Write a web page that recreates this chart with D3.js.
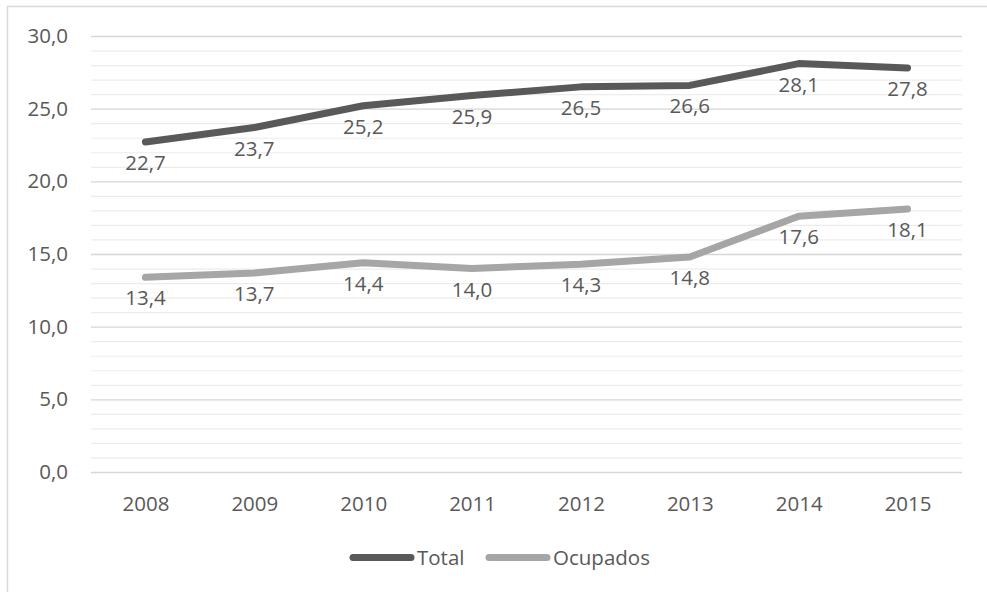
<!DOCTYPE html>
<html>
<head>
<meta charset="utf-8">
<script src="https://cdn.jsdelivr.net/npm/d3@7"></script>
<style>
  body { margin: 0; background: #fff; }
  text { font-family: "Open Sans", sans-serif; fill: #595959; }
</style>
</head>
<body>
<div id="chart"></div>
<script>
var years = ["2008", "2009", "2010", "2011", "2012", "2013", "2014", "2015"];
var total = [22.7, 23.7, 25.2, 25.9, 26.5, 26.6, 28.1, 27.8];
var ocupados = [13.4, 13.7, 14.4, 14.0, 14.3, 14.8, 17.6, 18.1];
var seriesNames = ["Total", "Ocupados"];
var yTicks = [0, 5, 10, 15, 20, 25, 30];

var svgWidth = 987;
var svgHeight = 592;

var margin = { top: 36, right: 25, left: 91, bottom: 120 };
var width = svgWidth - margin.left - margin.right;
var height = svgHeight - margin.top - margin.bottom;

var fontSize = "20.5px";
var fmt = d => d.toFixed(1).replace(".", ",");

var svg = d3.select("#chart")
  .append("svg")
  .attr("width", svgWidth)
  .attr("height", svgHeight);

// chart border
svg.append("rect")
  .attr("x", 7.5)
  .attr("y", 6.5)
  .attr("width", 1000)
  .attr("height", 600)
  .attr("fill", "none")
  .attr("stroke", "#d9d9d9")
  .attr("stroke-width", 1.5);

var chartGroup = svg.append("g")
  .attr("transform", `translate(${margin.left}, ${margin.top})`);

var x = d3.scalePoint()
  .domain(years)
  .range([0, width])
  .padding(0.5);

var y = d3.scaleLinear()
  .domain([0, 30])
  .range([height, 0]);

// minor gridlines every 1
chartGroup.append("g")
  .selectAll("line")
  .data(d3.range(0, 31).filter(v => v % 5 != 0))
  .enter()
  .append("line")
  .attr("x1", 0)
  .attr("x2", width)
  .attr("y1", d => y(d) + 0.5)
  .attr("y2", d => y(d) + 0.5)
  .attr("stroke", "#ececec")
  .attr("stroke-width", 1.2);

// major gridlines + labels
var yAxis = chartGroup.append("g")
  .call(d3.axisLeft(y).tickValues(yTicks).tickSize(-width).tickFormat(fmt).tickPadding(23));
yAxis.select(".domain").remove();
yAxis.selectAll("line").attr("stroke", "#d6d6d6").attr("stroke-width", 1.3);
yAxis.selectAll("text")
  .attr("font-size", fontSize)
  .attr("fill", "#595959")
  .style("font-family", "Open Sans");

var xAxis = chartGroup.append("g")
  .attr("transform", `translate(0, ${height})`)
  .call(d3.axisBottom(x).tickSize(0).tickPadding(24));
xAxis.select(".domain").remove();
xAxis.selectAll("text")
  .attr("font-size", fontSize)
  .attr("fill", "#595959")
  .style("font-family", "Open Sans");

var colors = ["#595959", "#a6a6a6"];
var allSeries = [total, ocupados];

var line = d3.line()
  .x((d, i) => x(years[i]))
  .y(d => y(d));

allSeries.forEach((vals, s) => {
  chartGroup.append("path")
    .datum(vals)
    .attr("d", line)
    .attr("fill", "none")
    .attr("stroke", colors[s])
    .attr("stroke-width", 7)
    .attr("stroke-linecap", "round")
    .attr("stroke-linejoin", "round");

  chartGroup.selectAll(".lbl" + s)
    .data(vals)
    .enter()
    .append("text")
    .attr("class", "lbl" + s)
    .attr("x", (d, i) => x(years[i]))
    .attr("y", d => y(d) + 28)
    .attr("text-anchor", "middle")
    .attr("font-size", fontSize)
    .text(d => fmt(d));
});

// legend
var legendX = [353, 489];
seriesNames.forEach((name, s) => {
  svg.append("line")
    .attr("x1", legendX[s])
    .attr("x2", legendX[s] + 58)
    .attr("y1", 557.5)
    .attr("y2", 557.5)
    .attr("stroke", colors[s])
    .attr("stroke-width", 7)
    .attr("stroke-linecap", "round");
  svg.append("text")
    .attr("x", legendX[s] + 64)
    .attr("y", 557.5)
    .attr("dy", "0.35em")
    .attr("font-size", fontSize)
    .text(name);
});
</script>
</body>
</html>
